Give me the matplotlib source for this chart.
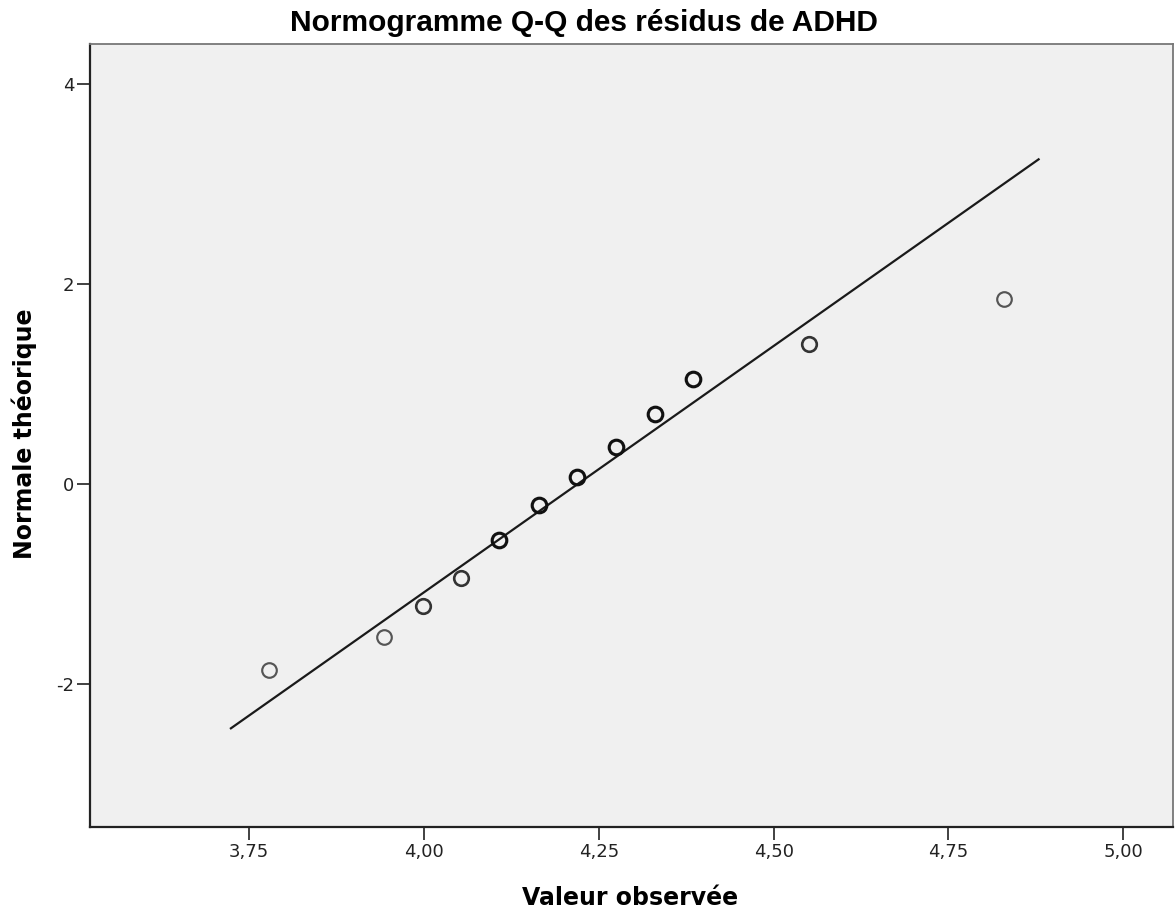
import matplotlib
matplotlib.use('Agg')
import matplotlib.pyplot as plt
from matplotlib.ticker import FuncFormatter, FixedLocator

plt.rcParams['font.family'] = ['DejaVu Sans']

# observed residual values and their theoretical normal quantiles
observed = [3.778, 3.943, 3.999, 4.053, 4.108, 4.165, 4.219, 4.275, 4.331, 4.385, 4.551, 4.829]
theoretical = [-1.86, -1.53, -1.22, -0.94, -0.56, -0.21, 0.07, 0.37, 0.70, 1.05, 1.40, 1.85]
# how many cases sit on each point (overlapping circles look darker)
counts = [1, 1, 2, 2, 3, 3, 3, 3, 3, 3, 2, 1]

# reference line: mean and standard deviation of the residuals
line_mean = 4.220
line_sd = 0.203
line_x = [3.724, 4.879]

x_ticks = [3.75, 4.00, 4.25, 4.50, 4.75, 5.00]
y_ticks = [-2, 0, 2, 4]

title = 'Normogramme Q-Q des résidus de ADHD'
x_label = 'Valeur observée'
y_label = 'Normale théorique'

fig = plt.figure(figsize=(11.75, 9.14), dpi=100)
ax = fig.add_axes([0.0766, 0.0952, 0.9214, 0.8567])
ax.set_facecolor('#f0f0f0')

line_y = [(x - line_mean) / line_sd for x in line_x]
ax.plot(line_x, line_y, color='#1a1a1a', linewidth=1.6, zorder=2)

for x, y, n in zip(observed, theoretical, counts):
    edge = {1: '#555555', 2: '#333333', 3: '#111111'}[n]
    ax.plot(x, y, 'o', markersize=10.5, markerfacecolor='none',
            markeredgecolor=edge, markeredgewidth=1.2 + 0.35 * n, zorder=3)

ax.set_xlim(3.5225, 5.0707)
ax.set_ylim(-3.43, 4.40)
ax.xaxis.set_major_locator(FixedLocator(x_ticks))
ax.yaxis.set_major_locator(FixedLocator(y_ticks))
ax.xaxis.set_major_formatter(FuncFormatter(lambda v, p: f"{v:.2f}".replace('.', ',')))
ax.yaxis.set_major_formatter(FuncFormatter(lambda v, p: f"{v:.0f}"))
ax.tick_params(direction='out', length=9.4, width=1.3, color='#333333',
               labelsize=13, labelcolor='#222222', pad=2)

for side in ['left', 'bottom']:
    ax.spines[side].set_color('#222222')
    ax.spines[side].set_linewidth(1.6)
for side in ['top', 'right']:
    ax.spines[side].set_color('#777777')
    ax.spines[side].set_linewidth(1.3)

# titles placed where the reference has them
fig.text(0.4966, 1 - 31 / 914, title, ha='center', va='baseline',
         fontsize=21.5, fontweight='bold', family='Liberation Sans')
fig.text(0.536, 1 - 905 / 914, x_label, ha='center', va='baseline',
         fontsize=17, fontweight='bold')
fig.text(24 / 1175, 1 - 434 / 914, y_label, ha='center', va='center',
         rotation=90, fontsize=17, fontweight='bold')

fig.savefig('out.png', dpi=100, facecolor='white')
